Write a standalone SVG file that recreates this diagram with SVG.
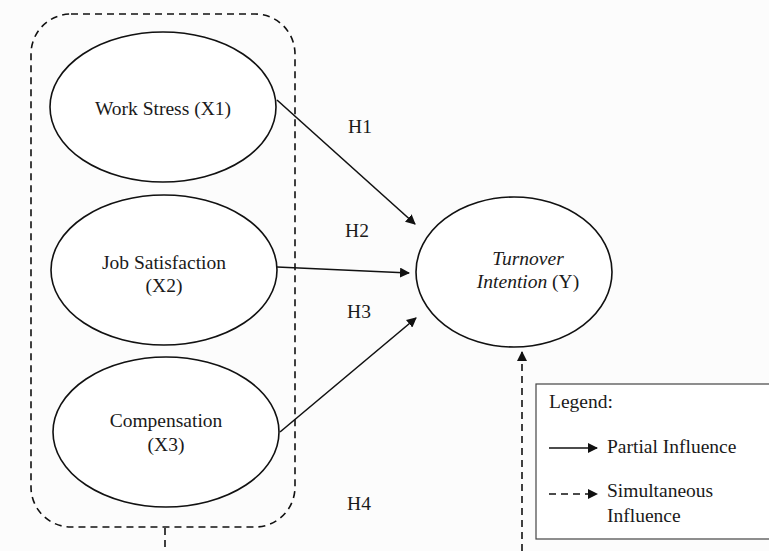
<svg xmlns="http://www.w3.org/2000/svg" width="769" height="551" viewBox="0 0 769 551">
<defs>
<style>
.n{fill:#fff;stroke:#111;stroke-width:1.6}
.t{font-family:"Liberation Serif","Times New Roman",serif;font-size:19.5px;fill:#1a1a1a;text-anchor:middle}
.l{font-family:"Liberation Serif","Times New Roman",serif;font-size:19.5px;fill:#1a1a1a}
.s{fill:none;stroke:#111;stroke-width:1.6}
.d{fill:none;stroke:#111;stroke-width:1.6;stroke-dasharray:7 5}
</style>
<marker id="ah" viewBox="0 0 10 10" refX="9" refY="5" markerWidth="10" markerHeight="10" markerUnits="userSpaceOnUse" orient="auto">
<path d="M0,0 L10,5 L0,10 z" fill="#111"/>
</marker>
</defs>
<rect width="769" height="551" fill="#fcfcfc"/>
<g id="group-box">
<rect x="31" y="14" width="264" height="513" rx="40" ry="40" class="d"/>
</g>
<g id="connectors">
<line x1="277" y1="100" x2="415" y2="224" class="s" marker-end="url(#ah)"/>
<line x1="277" y1="267" x2="409" y2="273" class="s" marker-end="url(#ah)"/>
<line x1="280" y1="432" x2="416" y2="318" class="s" marker-end="url(#ah)"/>
<line x1="165" y1="528" x2="165" y2="551" class="d"/>
<line x1="522" y1="551" x2="522" y2="352" class="d" marker-end="url(#ah)"/>
</g>
<g id="x1">
<ellipse cx="163" cy="107" rx="113" ry="75" class="n"/>
<text x="163" y="115" class="t">Work Stress (X1)</text>
</g>
<g id="x2">
<ellipse cx="164" cy="270" rx="113" ry="75" class="n"/>
<text x="164" y="269" class="t">Job Satisfaction</text>
<text x="164" y="292" class="t">(X2)</text>
</g>
<g id="x3">
<ellipse cx="166" cy="432" rx="113" ry="75" class="n"/>
<text x="166" y="427" class="t">Compensation</text>
<text x="166" y="451" class="t">(X3)</text>
</g>
<g id="y">
<ellipse cx="514" cy="272" rx="98" ry="75" class="n"/>
<text x="528" y="265" class="t" font-style="italic">Turnover</text>
<text x="528" y="288" class="t"><tspan font-style="italic">Intention</tspan> (Y)</text>
</g>
<g id="labels">
<text x="360" y="133" class="t">H1</text>
<text x="357" y="237" class="t">H2</text>
<text x="359" y="318" class="t">H3</text>
<text x="359" y="510" class="t">H4</text>
</g>
<g id="legend">
<rect x="536" y="384" width="240" height="155" fill="#fff" stroke="#444" stroke-width="1.2"/>
<text x="549" y="408" class="l">Legend:</text>
<line x1="549" y1="448" x2="597" y2="448" class="s" marker-end="url(#ah)"/>
<text x="607" y="453" class="l">Partial Influence</text>
<line x1="549" y1="494" x2="597" y2="494" class="d" stroke-dasharray="6 5" marker-end="url(#ah)"/>
<text x="607" y="497" class="l">Simultaneous</text>
<text x="607" y="522" class="l">Influence</text>
</g>
</svg>
